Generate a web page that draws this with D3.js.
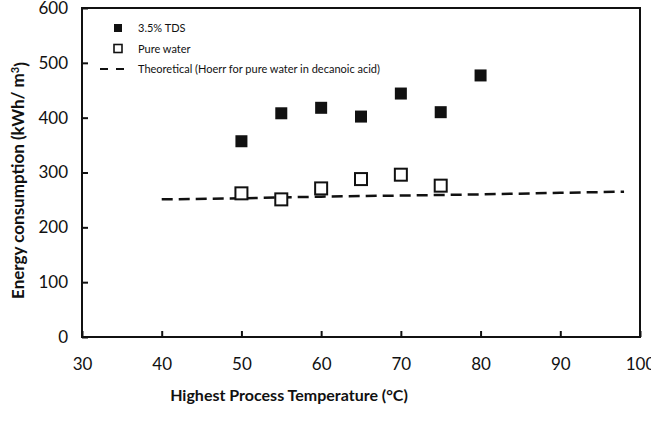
<!DOCTYPE html>
<html>
<head>
<meta charset="utf-8">
<script src="https://cdn.jsdelivr.net/npm/d3@7"></script>
<style>
  body { margin: 0; background: #fff; }
  text { font-family: Lato, "Open Sans", sans-serif; fill: #111; }
</style>
</head>
<body>
<div id="chart"></div>
<script>
// values
const tdsTemp = [50, 55, 60, 65, 70, 75, 80];
const tdsEnergy = [357, 408, 418, 402, 444, 410, 477];
const pureTemp = [50, 55, 60, 65, 70, 75];
const pureEnergy = [262, 251, 271, 288, 296, 276];
const theoTemp = [40, 50, 60, 70, 80, 90, 98];
const theoEnergy = [251, 253, 256, 258, 260, 263, 265];
const xTicks = [30, 40, 50, 60, 70, 80, 90, 100];
const yTicks = [0, 100, 200, 300, 400, 500, 600];
const legendLabels = ["3.5% TDS", "Pure water", "Theoretical (Hoerr for pure water in decanoic acid)"];

const dims = { width: 651, height: 425 };
const margins = { top: 8, left: 82, bottom: 88, right: 11 };
const w = dims.width - margins.left - margins.right;
const h = dims.height - margins.top - margins.bottom;

const svg = d3.select("#chart").append("svg")
    .attr("width", dims.width)
    .attr("height", dims.height);

const g = svg.append("g")
    .attr("transform", `translate(${margins.left},${margins.top})`);

const xScale = d3.scaleLinear().domain([30, 100]).range([0, w]);
const yScale = d3.scaleLinear().domain([0, 600]).range([h, 0]);

// frame
g.append("rect")
    .attr("width", w).attr("height", h)
    .style("fill", "none").style("stroke", "#111").style("stroke-width", 2);

// x axis (ticks point inward)
const xAxis = g.append("g")
    .attr("transform", `translate(0,${h})`)
    .call(d3.axisBottom(xScale).tickValues(xTicks).tickSizeInner(-6).tickSizeOuter(0).tickPadding(18));
xAxis.select(".domain").remove();
xAxis.selectAll("line").style("stroke", "#111").style("stroke-width", 2);
xAxis.selectAll("text").style("font-size", "17px").attr("dy", "0.9em");

// y axis
const yAxis = g.append("g")
    .call(d3.axisLeft(yScale).tickValues(yTicks).tickSizeInner(-6).tickSizeOuter(0).tickPadding(14));
yAxis.select(".domain").remove();
yAxis.selectAll("line").style("stroke", "#111").style("stroke-width", 2);
yAxis.selectAll("text").style("font-size", "17px");

// axis titles
svg.append("text")
    .attr("x", 289)
    .attr("y", 401)
    .style("text-anchor", "middle")
    .style("font-size", "16px")
    .style("font-weight", "bold")
    .text("Highest Process Temperature (°C)");

svg.append("text")
    .attr("transform", `translate(24,${margins.top + h / 2 + 8}) rotate(-90)`)
    .style("text-anchor", "middle")
    .style("font-size", "17px")
    .style("font-weight", "bold")
    .text("Energy consumption (kWh/ m")
    .append("tspan").attr("dy", "-0.5em").style("font-size", "11px").text("3")
    .select(function() { return this.parentNode; })
    .append("tspan").attr("dy", "0.5em").text(")");

// theoretical dashed line
const theo = theoTemp.map((t, i) => ({ t: t, e: theoEnergy[i] }));
g.append("path")
    .datum(theo)
    .attr("d", d3.line().x(d => xScale(d.t)).y(d => yScale(d.e)))
    .style("fill", "none").style("stroke", "#111")
    .style("stroke-width", 2.5).style("stroke-dasharray", "11,6");

const size = 12;
const marks = g.append("g");

marks.selectAll("rect.pure")
    .data(pureTemp.map((t, i) => ({ t: t, e: pureEnergy[i] })))
    .join("rect")
    .attr("class", "pure")
    .attr("x", d => xScale(d.t) - size / 2)
    .attr("y", d => yScale(d.e) - size / 2)
    .attr("width", size).attr("height", size)
    .style("fill", "#fff").style("stroke", "#111").style("stroke-width", 2);

marks.selectAll("rect.tds")
    .data(tdsTemp.map((t, i) => ({ t: t, e: tdsEnergy[i] })))
    .join("rect")
    .attr("class", "tds")
    .attr("x", d => xScale(d.t) - size / 2)
    .attr("y", d => yScale(d.e) - size / 2)
    .attr("width", size).attr("height", size)
    .style("fill", "#111");

// legend
const legend = svg.append("g");
legendLabels.forEach((label, i) => {
    const ly = 28 + i * 20.5;
    if (i === 0) {
        legend.append("rect").attr("x", 114).attr("y", ly - 4).attr("width", 8).attr("height", 8).style("fill", "#111");
    } else if (i === 1) {
        legend.append("rect").attr("x", 114).attr("y", ly - 4).attr("width", 8).attr("height", 8)
            .style("fill", "#fff").style("stroke", "#111").style("stroke-width", 1.6);
    } else {
        legend.append("line").attr("x1", 100).attr("x2", 126).attr("y1", ly).attr("y2", ly)
            .style("stroke", "#111").style("stroke-width", 2).style("stroke-dasharray", "8,8");
    }
    legend.append("text")
        .attr("x", 138).attr("y", ly + 4)
        .style("font-size", "11px")
        .text(label);
});
</script>
</body>
</html>
